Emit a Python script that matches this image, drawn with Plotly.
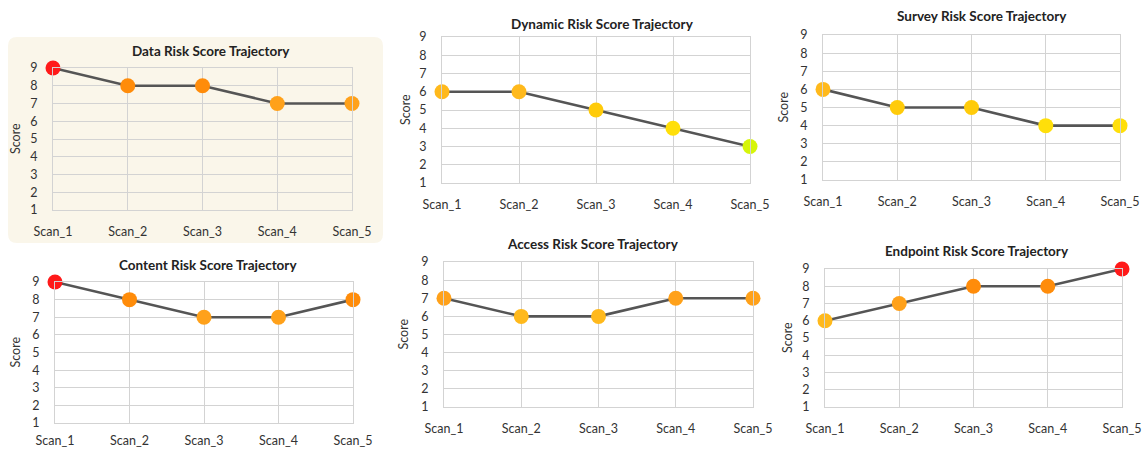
import plotly.graph_objects as go

W, H = 1143, 451

scans = ["Scan_1", "Scan_2", "Scan_3", "Scan_4", "Scan_5"]

titles = [
    "Data Risk Score Trajectory",
    "Dynamic Risk Score Trajectory",
    "Survey Risk Score Trajectory",
    "Content Risk Score Trajectory",
    "Access Risk Score Trajectory",
    "Endpoint Risk Score Trajectory",
]

data_scores = [9, 8, 8, 7, 7]
dynamic_scores = [6, 6, 5, 4, 3]
survey_scores = [6, 5, 5, 4, 4]
content_scores = [9, 8, 7, 7, 8]
access_scores = [7, 6, 6, 7, 7]
endpoint_scores = [6, 7, 8, 8, 9]

series = [data_scores, dynamic_scores, survey_scores,
          content_scores, access_scores, endpoint_scores]

y_ticks = [1, 2, 3, 4, 5, 6, 7, 8, 9]

# risk colour per score level
score_colors = {
    9: "#FF1A1A",
    8: "#FF8C0A",
    7: "#FFA11A",
    6: "#FFB91C",
    5: "#FFCB0A",
    4: "#FFDF0A",
    3: "#D6F50A",
    2: "#9BE81A",
    1: "#4CD137",
}

# panel frames in pixels: left, right, top (score 9), bottom (score 1)
frames = [
    (53, 352, 68, 210),
    (442, 750, 37, 183),
    (823, 1120, 35, 180),
    (55, 353, 282, 423),
    (444, 753, 262, 407),
    (825, 1122, 269, 407),
]
title_pos = [(211, 51), (602, 24), (982, 16), (208, 265), (593, 244), (977, 251)]
score_x = [15, 405, 783, 15, 403, 787]
x_label_gap = [10, 10, 10, 6, 10, 10]


def px(x):
    return x / W


def py(y):
    return 1 - y / H


fig = go.Figure()
FONT = "Lato, 'Open Sans', sans-serif"
GRID = "#D3D3D3"

annotations = []
for i, (vals, (l, r, t, b)) in enumerate(zip(series, frames)):
    n = i + 1
    xa = "x" if n == 1 else f"x{n}"
    ya = "y" if n == 1 else f"y{n}"
    fig.add_trace(go.Scatter(
        x=scans, y=vals, xaxis=xa, yaxis=ya, mode="lines+markers",
        line=dict(color="#555555", width=2.6),
        marker=dict(size=15, color=[score_colors[v] for v in vals], line=dict(width=0)),
        cliponaxis=False, showlegend=False, hoverinfo="x+y",
    ))
    axis_common = dict(
        showgrid=True, gridcolor=GRID, gridwidth=1,
        showline=True, linecolor=GRID, linewidth=1, mirror=True,
        zeroline=False, ticks="", fixedrange=True, automargin=False,
        tickfont=dict(family=FONT, size=12.5, color="#333333"),
    )
    fig.layout[f"xaxis{'' if n == 1 else n}"] = dict(
        axis_common, domain=[px(l), px(r)], anchor=ya,
        type="category", range=[0, 4], ticklabelstandoff=x_label_gap[i],
    )
    fig.layout[f"yaxis{'' if n == 1 else n}"] = dict(
        axis_common, domain=[py(b), py(t)], anchor=xa,
        range=[1, 9], tickvals=y_ticks, ticklabelstandoff=12,
    )
    tx, ty = title_pos[i]
    annotations.append(dict(
        x=px(tx), y=py(ty), xref="paper", yref="paper", showarrow=False,
        text=f"<b>{titles[i]}</b>", xanchor="center", yanchor="middle",
        font=dict(family=FONT, size=13.5, color="#222222"),
    ))
    annotations.append(dict(
        x=px(score_x[i]), y=py((t + b) / 2), xref="paper", yref="paper",
        showarrow=False, text="Score", textangle=-90,
        xanchor="center", yanchor="middle",
        font=dict(family=FONT, size=12.5, color="#333333"),
    ))

# rounded beige card behind the first panel
x0, y0, x1, y1, rad = 8, 37, 383, 243, 9
card = (
    f"M {x0 + rad},{y0} L {x1 - rad},{y0} Q {x1},{y0} {x1},{y0 + rad} "
    f"L {x1},{y1 - rad} Q {x1},{y1} {x1 - rad},{y1} "
    f"L {x0 + rad},{y1} Q {x0},{y1} {x0},{y1 - rad} "
    f"L {x0},{y0 + rad} Q {x0},{y0} {x0 + rad},{y0} Z"
)


def to_paper_path(path):
    out = []
    for tok in path.split():
        if "," in tok:
            a, b = tok.split(",")
            out.append(f"{px(float(a)):.5f},{py(float(b)):.5f}")
        else:
            out.append(tok)
    return " ".join(out)


fig.update_layout(
    width=W, height=H,
    margin=dict(l=0, r=0, t=0, b=0),
    paper_bgcolor="white", plot_bgcolor="white",
    annotations=annotations,
    shapes=[dict(type="path", xref="paper", yref="paper",
                 path=to_paper_path(card), fillcolor="#FAF6EA",
                 line=dict(width=0), layer="below")],
)

fig.write_html("out.html")
